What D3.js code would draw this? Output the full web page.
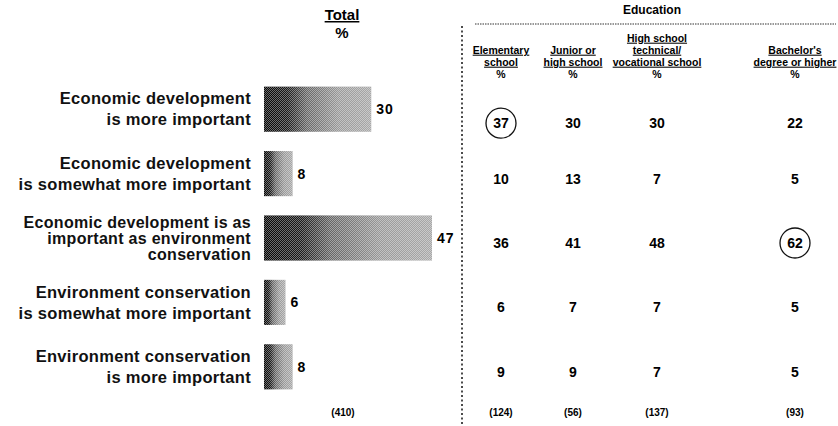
<!DOCTYPE html>
<html>
<head>
<meta charset="utf-8">
<script src="https://cdn.jsdelivr.net/npm/d3@7"></script>
<style>
  html, body { margin: 0; padding: 0; background: #fff; }
  svg { display: block; font-family: Arial, "Liberation Sans", sans-serif; }
</style>
</head>
<body>
<svg id="chart" width="838" height="426"></svg>
<script>
// Survey answers (rows) and the overall share choosing each
const categories = [
  ["Economic development", "is more important"],
  ["Economic development", "is somewhat more important"],
  ["Economic development is as", "important as environment", "conservation"],
  ["Environment conservation", "is somewhat more important"],
  ["Environment conservation", "is more important"]
];
const totals = [30, 8, 47, 6, 8];
const totalN = 410;

// Breakdown by education
const eduGroups = [
  ["Elementary", "school"],
  ["Junior or", "high school"],
  ["High school", "technical/", "vocational school"],
  ["Bachelor's", "degree or higher"]
];
const eduValues = [
  [37, 10, 36, 6, 9],
  [30, 13, 41, 7, 9],
  [30, 7, 48, 7, 7],
  [22, 5, 62, 5, 5]
];
const eduN = [124, 56, 137, 93];
// [group index, row index] of the circled figures
const circled = [[0, 0], [3, 2]];

const svg = d3.select("#chart");
const defs = svg.append("defs");

// dark-to-light shading for the bars, with a fine halftone dot overlay
const grad = defs.append("linearGradient").attr("id", "barShade")
  .attr("x1", 0).attr("x2", 1).attr("y1", 0).attr("y2", 0);
[[0, "#050505"], [0.22, "#1a1a1a"], [0.4, "#666"], [0.7, "#9a9a9a"], [1, "#a8a8a8"]]
  .forEach(([o, c]) => grad.append("stop").attr("offset", o).attr("stop-color", c));
const pat = defs.append("pattern").attr("id", "halftone")
  .attr("width", 2).attr("height", 2).attr("patternUnits", "userSpaceOnUse");
pat.append("rect").attr("x", 0).attr("y", 0).attr("width", 1).attr("height", 1).attr("fill", "#fff");
pat.append("rect").attr("x", 1).attr("y", 1).attr("width", 1).attr("height", 1).attr("fill", "#fff");

const rows = d3.range(categories.length);
const y = d3.scaleBand().domain(rows).range([77, 399]).paddingInner(0.3).paddingOuter(0.15);
const x = d3.scaleLinear().domain([0, 47]).range([264, 432]);
const colX = d3.scaleOrdinal().domain(d3.range(eduGroups.length)).range([501, 573, 657, 795]);

// ---- Total column header
svg.append("text").attr("x", 342).attr("y", 20).attr("text-anchor", "middle")
  .attr("font-size", 15).attr("font-weight", "bold").attr("text-decoration", "underline")
  .text("Total");
svg.append("text").attr("x", 342).attr("y", 38).attr("text-anchor", "middle")
  .attr("font-size", 15).attr("font-weight", "bold").text("%");

// ---- Row labels (the three-line answer is set a little smaller)
const labels = svg.append("g").attr("font-weight", "bold")
  .attr("letter-spacing", 0.3).attr("text-anchor", "end").attr("fill", "#111");
categories.forEach((lines, i) => {
  const three = lines.length > 2;
  const gap = three ? 16 : 21;
  const cy = y(i) + y.bandwidth() / 2;
  const t = labels.append("text").attr("x", 251).attr("font-size", three ? 16 : 16.5);
  lines.forEach((ln, k) => {
    t.append("tspan").attr("x", 251)
      .attr("y", cy + (k - (lines.length - 1) / 2) * gap)
      .attr("dy", "0.35em").text(ln);
  });
});

// ---- Bars
const bars = svg.append("g");
bars.selectAll("rect.bar").data(totals).join("rect").attr("class", "bar")
  .attr("x", x(0)).attr("y", (d, i) => y(i))
  .attr("width", d => x(d) - x(0)).attr("height", y.bandwidth())
  .attr("fill", "url(#barShade)");
bars.selectAll("rect.dots").data(totals).join("rect").attr("class", "dots")
  .attr("x", x(0)).attr("y", (d, i) => y(i))
  .attr("width", d => x(d) - x(0)).attr("height", y.bandwidth())
  .attr("fill", "url(#halftone)").attr("opacity", 0.4);
bars.selectAll("text").data(totals).join("text")
  .attr("x", d => x(d) + 5).attr("y", (d, i) => y(i) + y.bandwidth() / 2)
  .attr("dy", "0.35em").attr("font-size", 14).attr("font-weight", "bold")
  .attr("letter-spacing", 1).text(d => d);

svg.append("text").attr("x", 343).attr("y", 412).attr("dy", "0.35em")
  .attr("text-anchor", "middle").attr("font-size", 10).attr("font-weight", "bold")
  .text(`(${totalN})`);

// ---- Education panel frame
svg.append("line").attr("x1", 462).attr("x2", 462).attr("y1", 26).attr("y2", 426)
  .attr("stroke", "#111").attr("stroke-width", 1.5).attr("stroke-dasharray", "2,2.5");
svg.append("line").attr("x1", 475).attr("x2", 836).attr("y1", 24).attr("y2", 24)
  .attr("stroke", "#333").attr("stroke-width", 1).attr("stroke-dasharray", "1.5,1");
svg.append("text").attr("x", 652).attr("y", 10).attr("dy", "0.35em")
  .attr("text-anchor", "middle").attr("font-size", 12).attr("font-weight", "bold")
  .text("Education");

// column headers, bottom-aligned on the % line
const pctY = 74;
const heads = svg.append("g").attr("font-size", 10.5).attr("font-weight", "bold")
  .attr("text-anchor", "middle");
eduGroups.forEach((lines, g) => {
  const cx = colX(g);
  lines.forEach((ln, k) => {
    heads.append("text").attr("x", cx)
      .attr("y", pctY - (lines.length - k) * 12).attr("dy", "0.35em")
      .attr("text-decoration", "underline").text(ln);
  });
  heads.append("text").attr("x", cx).attr("y", pctY).attr("dy", "0.35em").text("%");
});

// table row positions: follow the bars, first row sits lower under the headers
const rowY = i => y(i) + y.bandwidth() / 2 + (i === 0 ? 14 : 5);

const cells = svg.append("g").attr("font-size", 14).attr("font-weight", "bold")
  .attr("text-anchor", "middle");
eduValues.forEach((vals, g) => {
  cells.selectAll(null).data(vals).join("text")
    .attr("x", colX(g)).attr("y", (d, i) => rowY(i)).attr("dy", "0.35em")
    .text(d => d);
});
circled.forEach(([g, r]) => {
  svg.append("circle").attr("cx", colX(g)).attr("cy", rowY(r)).attr("r", 15)
    .attr("fill", "none").attr("stroke", "#111").attr("stroke-width", 1.3);
});

svg.append("g").attr("font-size", 10).attr("font-weight", "bold").attr("text-anchor", "middle")
  .selectAll("text").data(eduN).join("text")
  .attr("x", (d, g) => colX(g)).attr("y", 412).attr("dy", "0.35em")
  .text(d => `(${d})`);
</script>
</body>
</html>
